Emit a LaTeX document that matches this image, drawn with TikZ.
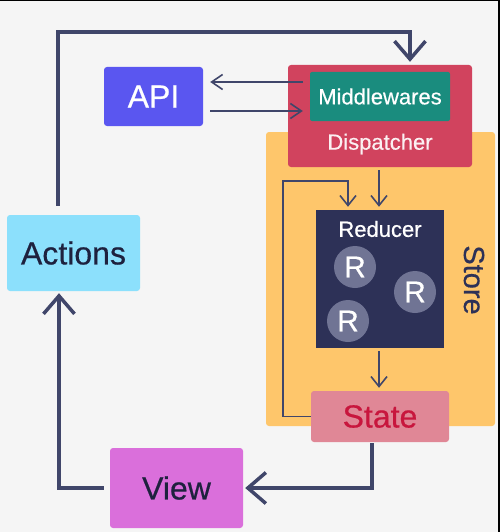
\documentclass[tikz,border=0pt]{standalone}
\usepackage{fontspec}
\setmainfont{Liberation Sans}[FakeBold=0.5]
\usetikzlibrary{arrows.meta,calc}
\definecolor{bgc}{RGB}{245,245,245}
\definecolor{apic}{RGB}{90,86,240}
\definecolor{dispc}{RGB}{209,67,94}
\definecolor{mwc}{RGB}{26,140,126}
\definecolor{storec}{RGB}{254,198,107}
\definecolor{redc}{RGB}{45,49,87}
\definecolor{rc}{RGB}{112,116,148}
\definecolor{statec}{RGB}{224,135,150}
\definecolor{statet}{RGB}{200,22,61}
\definecolor{actc}{RGB}{140,224,252}
\definecolor{viewc}{RGB}{218,111,219}
\definecolor{navy}{RGB}{30,33,62}
\definecolor{linec}{RGB}{64,70,106}
\tikzset{
  box/.style={draw=none, rounded corners=3pt, inner sep=0pt, text centered},
  bigtxt/.style={font=\fontsize{32}{36}\selectfont},
  smalltxt/.style={font=\fontsize{22}{26}\selectfont},
  bigline/.style={draw=linec, line width=3.5pt, line join=miter,
    -{Straight Barb[length=18pt,width=31pt,line width=3.5pt]}},
  thinline/.style={draw=linec, line width=1.6pt,
    -{Straight Barb[length=10pt,width=16pt,line width=1.6pt]}},
  apiline/.style={draw=linec, line width=1.6pt,
    -{Straight Barb[length=11pt,width=15pt,line width=1.6pt]}},
  rcirc/.style={circle, fill=rc, minimum size=42pt, inner sep=0pt, text=white,
    font=\fontsize{30}{34}\selectfont},
}
\begin{document}
\begin{tikzpicture}[x=1pt,y=-1pt]
\useasboundingbox (0,0) rectangle (500,532);
\fill[bgc] (0,0) rectangle (500,532);
\fill[black] (0,0) rectangle (500,1.2);
\fill[black] (498,0) rectangle (500,532);

% store
\node[box, fill=storec, minimum width=229pt, minimum height=294pt] (store) at (380.5,279) {};
\node[rotate=-90, text=redc, font=\fontsize{29}{33}\selectfont] (storelbl) at (474,280) {Store};

% dispatcher + middlewares
\node[box, fill=dispc, minimum width=184pt, minimum height=102pt] (disp) at (380,116) {};
\node[text=white!92!dispc, smalltxt] (displbl) at (380,144) {Dispatcher};
\node[box, rounded corners=2pt, fill=mwc, minimum width=140pt, minimum height=49pt, text=white, smalltxt] (mw) at (380,96.5) {Middlewares};

% api
\node[box, fill=apic, minimum width=99pt, minimum height=59pt, text=white, bigtxt] (api) at (153.5,96.5) {API};

% reducer
\node[fill=redc, minimum width=128pt, minimum height=138pt, inner sep=0pt] (red) at (380,279) {};
\node[text=white, smalltxt] (redlbl) at (380,229) {Reducer};
\node[rcirc] (r1) at (355,267) {R};
\node[rcirc] (r2) at (415,292) {R};
\node[rcirc] (r3) at (348,321) {R};

% state
\node[box, fill=statec, minimum width=138pt, minimum height=51pt, text=statet, bigtxt] (state) at (380,416.5) {State};

% actions
\node[box, fill=actc, minimum width=133pt, minimum height=76pt, text=navy, bigtxt] (actions) at (73.5,253) {Actions};

% view
\node[box, fill=viewc, minimum width=133pt, minimum height=80pt, text=navy, bigtxt] (view) at (176.5,488) {View};

% helper coordinates
\coordinate (tl) at (58,32);
\coordinate (tr) at (410,32);
\coordinate (bl) at (59,488);
\coordinate (sb) at (372,488);
\coordinate (lp) at (283,181);
\coordinate (lpr) at (348,181);
\coordinate (dx) at (379,0);

% big loop
\draw[bigline, shorten <=9pt, shorten >=3pt] (actions.north -| tl) |- (tr) -- (disp.north -| tr);
\draw[bigline, shorten <=1pt, shorten >=2pt] (state.south -| sb) |- (view.east);
\draw[bigline, shorten <=6pt, shorten >=2pt] (view.west) -| (actions.south -| bl);

% api arrows
\draw[apiline, shorten <=7pt, shorten >=7pt] ($(mw.west)+(0,-14.5)$) -- ($(api.east)+(0,-14.5)$);
\draw[apiline, shorten <=7pt, shorten >=7pt] ($(api.east)+(0,14.5)$) -- ($(mw.west)+(0,14.5)$);

% store internals
\draw[thinline, shorten <=3pt, shorten >=3pt] (disp.south -| dx) -- (red.north -| dx);
\draw[thinline, shorten <=3pt, shorten >=3pt] (red.south -| dx) -- (state.north -| dx);
\draw[thinline, shorten >=3pt] (state.west) -| (lp) -- (lpr) -- (red.north -| lpr);
\end{tikzpicture}
\end{document}
